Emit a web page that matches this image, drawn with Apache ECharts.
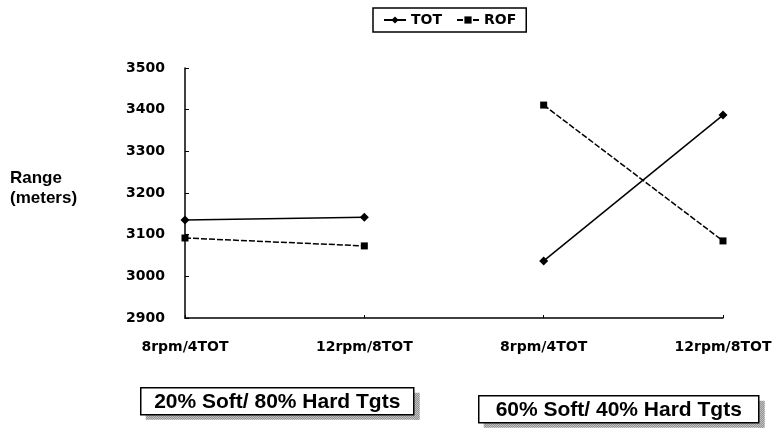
<!DOCTYPE html>
<html>
<head>
<meta charset="utf-8">
<script src="https://cdn.jsdelivr.net/npm/echarts@6/dist/echarts.min.js"></script>
<style>html,body{margin:0;padding:0;background:#fff}#c{width:781px;height:436px}</style>
</head>
<body>
<div id="c"></div>
<script>
var categories = ['8rpm/4TOT', '12rpm/8TOT', '8rpm/4TOT ', '12rpm/8TOT '];
var totLeft  = [3135, 3142, null, null];
var rofLeft  = [3092, 3073, null, null];
var totRight = [null, null, 3037, 3387];
var rofRight = [null, null, 3411, 3085];
var yMin = 2900, yMax = 3500, yStep = 100;
var groupLabels = ['20% Soft/ 80% Hard Tgts', '60% Soft/ 40% Hard Tgts'];
var yName = ['Range', '(meters)'];

function hatch() {
  var c = document.createElement('canvas');
  c.width = 4; c.height = 4;
  var g = c.getContext('2d');
  g.fillStyle = '#fff'; g.fillRect(0, 0, 4, 4);
  g.fillStyle = '#555';
  g.fillRect(0, 0, 1, 1); g.fillRect(2, 0, 1, 1);
  g.fillRect(1, 1, 1, 1); g.fillRect(3, 1, 1, 1);
  g.fillRect(0, 2, 1, 1); g.fillRect(2, 2, 1, 1);
  g.fillRect(1, 3, 1, 1); g.fillRect(3, 3, 1, 1);
  return c;
}
var pat = {image: hatch(), repeat: 'repeat'};

function labelBox(x, y, w, h, text) {
  return {
    type: 'group', left: x, top: y,
    children: [
      {type: 'rect', shape: {x: 5, y: h, width: w, height: 5}, style: {fill: pat}},
      {type: 'rect', shape: {x: w, y: 5, width: 6, height: h}, style: {fill: pat}},
      {type: 'rect', shape: {x: 0, y: 0, width: w, height: h}, style: {fill: '#fff', stroke: '#000', lineWidth: 1.5}},
      {type: 'text', x: w / 2, y: h / 2 + 1, style: {text: text, fill: '#000', font: 'bold 21px "Liberation Sans", Arial, sans-serif', align: 'center', verticalAlign: 'middle'}}
    ]
  };
}

var font = '"DejaVu Sans", sans-serif';
var lineStyleSolid = {color: '#000', width: 1.5, type: 'solid'};
var lineStyleDash = {color: '#000', width: 1.5, type: [6, 2]};
var chart = echarts.init(document.getElementById('c'), null, {renderer: 'canvas'});
chart.setOption({
  animation: false,
  backgroundColor: '#fff',
  grid: {left: 185, right: 58, top: 68, bottom: 118, containLabel: false},
  legend: {
    data: ['TOT', 'ROF'],
    left: 373, top: 8,
    borderColor: '#000', borderWidth: 1.5, padding: [5, 10],
    itemWidth: 22, itemHeight: 9, itemGap: 14,
    textStyle: {color: '#000', fontWeight: 'bold', fontSize: 14, fontFamily: font}
  },
  xAxis: {
    type: 'category', data: categories, boundaryGap: false,
    axisLine: {lineStyle: {color: '#000', width: 1.5}},
    axisTick: {show: true, inside: true, length: 3, lineStyle: {color: '#000'}},
    axisLabel: {color: '#000', fontWeight: 'bold', fontSize: 14, fontFamily: font, margin: 22,
      formatter: function (v) { return v.trim(); }},
    splitLine: {show: false}
  },
  yAxis: {
    type: 'value', min: yMin, max: yMax, interval: yStep,
    axisLine: {show: true, lineStyle: {color: '#000', width: 1.5}},
    axisTick: {show: true, inside: true, length: 4, lineStyle: {color: '#000'}},
    axisLabel: {color: '#000', fontWeight: 'bold', fontSize: 14, fontFamily: font, margin: 20,
      formatter: function (v) { return String(v); }},
    splitLine: {show: false}
  },
  series: [
    {name: 'TOT', type: 'line', data: totLeft, symbol: 'diamond', symbolSize: 9, lineStyle: lineStyleSolid, itemStyle: {color: '#000'}, connectNulls: false},
    {name: 'ROF', type: 'line', data: rofLeft, symbol: 'rect', symbolSize: 7, lineStyle: lineStyleDash, itemStyle: {color: '#000'}, connectNulls: false},
    {name: 'TOT', type: 'line', data: totRight, symbol: 'diamond', symbolSize: 9, lineStyle: lineStyleSolid, itemStyle: {color: '#000'}, connectNulls: false},
    {name: 'ROF', type: 'line', data: rofRight, symbol: 'rect', symbolSize: 7, lineStyle: lineStyleDash, itemStyle: {color: '#000'}, connectNulls: false}
  ],
  graphic: [
    {type: 'text', left: 10, top: 168, style: {text: yName.join('\n'), fill: '#000', font: 'bold 17px "Liberation Sans", Arial, sans-serif', lineHeight: 20}},
    labelBox(140, 387, 273, 27, groupLabels[0]),
    labelBox(478, 395, 280, 27, groupLabels[1])
  ]
});
</script>
</body>
</html>
